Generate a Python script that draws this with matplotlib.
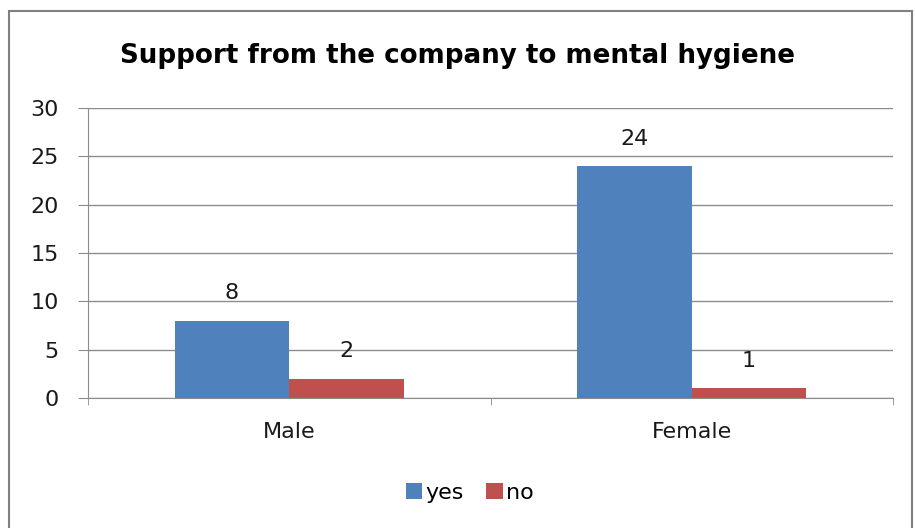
import matplotlib
matplotlib.use("Agg")
import matplotlib.pyplot as plt
from matplotlib.patches import Rectangle, Patch

categories = ["Male", "Female"]
yes_vals = [8, 24]
no_vals = [2, 1]
series_names = ["yes", "no"]
title = "Support from the company to mental hygiene"

plt.rcParams['font.family'] = ['DejaVu Sans']

fig = plt.figure(figsize=(9.15, 5.28), dpi=100)
ax = fig.add_axes([88/915, 1-398/528, (893-88)/915, (398-108)/528])

blue = "#4F81BD"
red = "#C0504D"
w = 0.285
x = list(range(len(categories)))
b1 = ax.bar([i - w/2 for i in x], yes_vals, width=w, color=blue, zorder=3)
b2 = ax.bar([i + w/2 for i in x], no_vals, width=w, color=red, zorder=3)
for bars, vals in ((b1, yes_vals), (b2, no_vals)):
    for r, v in zip(bars, vals):
        ax.annotate(str(v), (r.get_x() + r.get_width()/2, v), xytext=(0, 12.5),
                    textcoords="offset points", ha="center", va="bottom", fontsize=16,
                    color="#1a1a1a")

ax.set_xlim(-0.5, 1.5)
ax.set_ylim(0, 30)
ax.set_yticks(range(0, 31, 5))
ax.yaxis.grid(True, color="#8c8c8c", linewidth=1, zorder=0)
ax.set_axisbelow(True)
ax.set_xticks(x)
ax.set_xticklabels(categories, fontsize=16, color="#1a1a1a")
ax.tick_params(axis='x', length=0, pad=17)
ax.set_xticks([-0.5, 0.5, 1.5], minor=True)
ax.tick_params(axis='x', which='minor', length=5, color="#8c8c8c")
ax.tick_params(axis='y', labelsize=16, length=7, color="#8c8c8c", pad=14, labelcolor="#1a1a1a")
for s in ("top", "right"):
    ax.spines[s].set_visible(False)
for s in ("left", "bottom"):
    ax.spines[s].set_color("#8c8c8c")

fig.text(0.5, 1-56/528, title, ha="center", va="center", fontsize=18.8, fontweight="bold")

handles = [Patch(facecolor=blue), Patch(facecolor=red)]
fig.legend(handles, series_names, loc="center", bbox_to_anchor=(470/915, 1-493/528),
           ncol=2, frameon=False, fontsize=16, handlelength=0.75, handleheight=0.75,
           handletextpad=0.15, columnspacing=1.0)

fig.add_artist(Rectangle((8.5/915, -0.01), (912-8.5)/915, 1.01-10.5/528,
                         transform=fig.transFigure, fill=False, edgecolor="#808080", linewidth=1.5))

fig.savefig("out.png", dpi=100)
